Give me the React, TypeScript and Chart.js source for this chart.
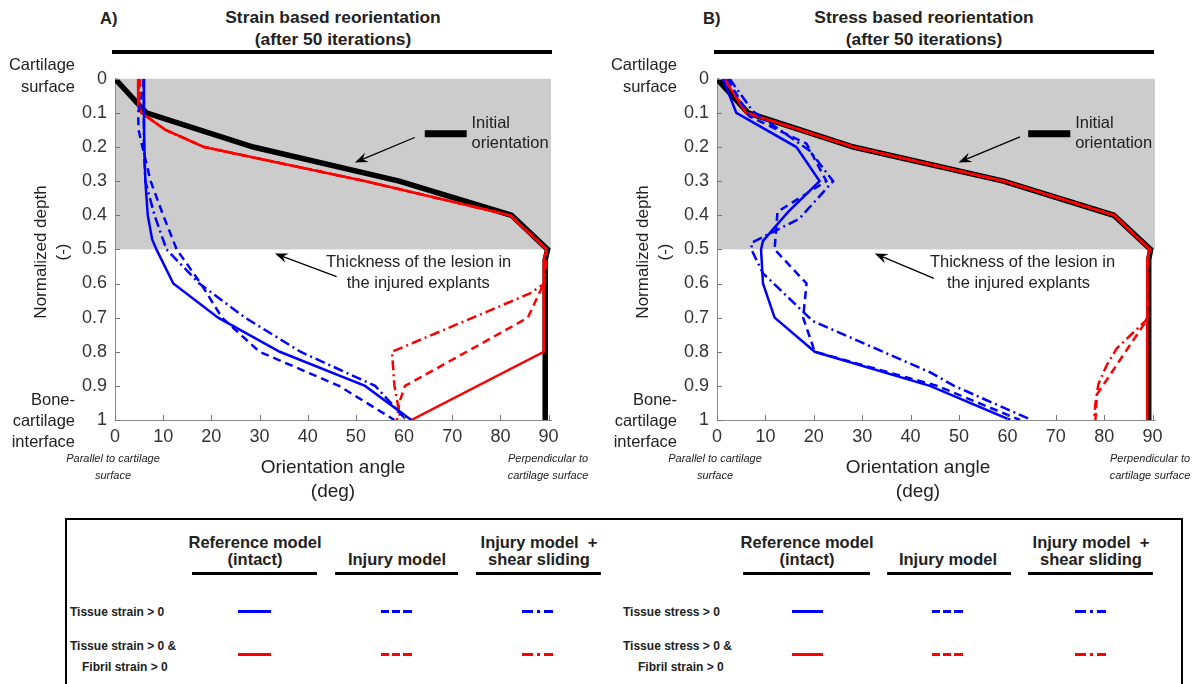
import React, { useEffect, useRef } from "react";
import { Chart, registerables } from "chart.js";
Chart.register(...registerables);

type Pt = [number, number]; // [orientation angle (deg), normalized depth]

const angleTicks = [0, 10, 20, 30, 40, 50, 60, 70, 80, 90];
const depthTicks = [0, 0.1, 0.2, 0.3, 0.4, 0.5, 0.6, 0.7, 0.8, 0.9, 1];
const lesionDepth = 0.5;

// ---------- Panel A: strain based reorientation ----------
const initialA: Pt[] = [[0, 0], [6.5, 0.1], [28.7, 0.2], [59, 0.3], [82.3, 0.4], [89.8, 0.5], [89.3, 0.53], [89.3, 1.0]];
const strainRefBlue: Pt[] = [[6, 0], [6, 0.1], [6.1, 0.2], [6.3, 0.3], [6.8, 0.4], [7.7, 0.47], [8.6, 0.5], [12.1, 0.6], [21.4, 0.7], [34.2, 0.8], [51.9, 0.9], [61.5, 1.0]];
const strainInjBlue: Pt[] = [[6, 0], [5.6, 0.05], [4.8, 0.1], [4.9, 0.15], [5.7, 0.2], [7.4, 0.3], [10, 0.4], [12.8, 0.5], [17.8, 0.6], [22.2, 0.7], [30, 0.8], [46.5, 0.9], [58, 1.0]];
const strainShearBlue: Pt[] = [[6, 0], [6, 0.1], [6, 0.2], [6.3, 0.3], [8.2, 0.4], [10.7, 0.5], [17.5, 0.6], [27, 0.7], [38.5, 0.8], [54, 0.9], [60.5, 1.0]];
const strainRefRed: Pt[] = [[4.8, 0], [4.8, 0.08], [5.5, 0.1], [10.5, 0.15], [18.5, 0.2], [52, 0.3], [82, 0.4], [89.6, 0.5], [89, 0.53], [89, 0.8], [61.5, 1.0]];
const strainInjRed: Pt[] = [[5.2, 0], [5.2, 0.08], [5.5, 0.1], [10.5, 0.15], [18.5, 0.2], [52, 0.3], [82, 0.4], [89.6, 0.5], [89, 0.6], [85.7, 0.7], [73, 0.8], [60.2, 0.9], [59, 0.95], [58.5, 1.0]];
const strainShearRed: Pt[] = [[5, 0], [5, 0.08], [5.5, 0.1], [10.5, 0.15], [18.5, 0.2], [52, 0.3], [82, 0.4], [89.6, 0.5], [89.2, 0.6], [86, 0.63], [57.5, 0.8], [58, 0.9], [59.3, 1.0]];

// ---------- Panel B: stress based reorientation ----------
const initialB: Pt[] = [[0, 0], [6.4, 0.1], [28.2, 0.2], [59.2, 0.3], [82, 0.4], [89.6, 0.5], [89.2, 0.53], [89.2, 1.0]];
const stressRefBlue: Pt[] = [[1.2, 0], [4, 0.1], [16.4, 0.2], [21.2, 0.3], [14.7, 0.39], [9.5, 0.475], [9.1, 0.5], [9.5, 0.6], [11.9, 0.7], [20.2, 0.8], [44, 0.9], [60.6, 1.0]];
const stressInjBlue: Pt[] = [[2.2, 0], [6.7, 0.11], [18.5, 0.19], [22.6, 0.3], [12.5, 0.39], [11.9, 0.5], [18.5, 0.6], [17.8, 0.7], [20.2, 0.8], [45.5, 0.9], [62.6, 1.0]];
const stressShearBlue: Pt[] = [[2.6, 0], [7.4, 0.095], [19.1, 0.21], [24, 0.3], [17, 0.41], [7.2, 0.48], [7.1, 0.5], [9.5, 0.57], [19.8, 0.71], [34.3, 0.8], [44, 0.86], [49, 0.9], [65, 1.0]];
const stressRefRed: Pt[] = [[1.5, 0], [6, 0.1], [28.2, 0.2], [59.2, 0.3], [82, 0.4], [89.4, 0.5], [88.9, 0.53], [88.9, 1.0]];
const stressInjRed: Pt[] = [[1.8, 0], [6.2, 0.1], [28.4, 0.2], [59.4, 0.3], [82.2, 0.4], [89.4, 0.5], [88.9, 0.53], [88.9, 0.7], [88.2, 0.72], [84.4, 0.8], [81.3, 0.866], [78.5, 0.925], [78.2, 1.0]];
const stressShearRed: Pt[] = [[1.6, 0], [6.1, 0.1], [28.3, 0.2], [59.3, 0.3], [82.1, 0.4], [89.4, 0.5], [88.9, 0.53], [88.9, 0.7], [88.5, 0.71], [82.6, 0.79], [80.5, 0.84], [78.8, 0.895], [78.2, 0.95], [77.9, 1.0]];

const FONT = "'Liberation Sans', Arial, Helvetica, sans-serif";
const BLUE = "#0000ff";
const RED = "#ff0000";
const SHADE = "#cccccc";
const DASH = [8, 5];
const DASHDOT = [10, 4, 2, 4];

type Annot = {
  initText: [number, number];
  initBar: [number, number, number];
  initArrow: [number, number, number, number];
  lesionText: [number, number, number];
  lesionArrow: [number, number, number, number];
};

const annotA: Annot = {
  initText: [74, 0.132],
  initBar: [64.3, 73, 0.161],
  initArrow: [62.2, 0.172, 49.8, 0.245],
  lesionText: [43.8, 48.1, 0.538],
  lesionArrow: [46, 0.58, 33.2, 0.512],
};
const annotB: Annot = {
  initText: [74, 0.132],
  initBar: [64.3, 73, 0.161],
  initArrow: [62.6, 0.17, 49.9, 0.245],
  lesionText: [44, 47.5, 0.538],
  lesionArrow: [44.8, 0.585, 32.6, 0.512],
};

function toData(p: Pt[]) {
  return p.map(([a, d]) => ({ x: a, y: d }));
}

function ds(p: Pt[], color: string, dash: number[], width = 2.5) {
  return {
    data: toData(p),
    borderColor: color,
    backgroundColor: color,
    borderWidth: width,
    borderDash: dash,
    pointRadius: 0,
    tension: 0,
    fill: false,
  };
}

function arrow(ctx: CanvasRenderingContext2D, x1: number, y1: number, x2: number, y2: number) {
  const ang = Math.atan2(y2 - y1, x2 - x1);
  const L = 13, W = 5;
  ctx.save();
  ctx.strokeStyle = "#000";
  ctx.fillStyle = "#000";
  ctx.lineWidth = 1.3;
  ctx.beginPath();
  ctx.moveTo(x1, y1);
  ctx.lineTo(x2 - Math.cos(ang) * 8, y2 - Math.sin(ang) * 8);
  ctx.stroke();
  const bx = x2 - Math.cos(ang) * L, by = y2 - Math.sin(ang) * L;
  const nx = -Math.sin(ang), ny = Math.cos(ang);
  const mx = x2 - Math.cos(ang) * (L * 0.65), my = y2 - Math.sin(ang) * (L * 0.65);
  ctx.beginPath();
  ctx.moveTo(x2, y2);
  ctx.lineTo(bx + nx * W, by + ny * W);
  ctx.lineTo(mx, my);
  ctx.lineTo(bx - nx * W, by - ny * W);
  ctx.closePath();
  ctx.fill();
  ctx.restore();
}

function makeDecor(an: Annot) {
  return {
    id: "decor",
    beforeDraw(chart: any) {
      const { ctx, chartArea: ca, scales } = chart;
      const yb = scales.y.getPixelForValue(lesionDepth);
      ctx.save();
      ctx.fillStyle = SHADE;
      ctx.fillRect(ca.left, ca.top, ca.right - ca.left, yb - ca.top);
      ctx.restore();
    },
    afterDraw(chart: any) {
      const { ctx, chartArea: ca, scales } = chart;
      const X = (v: number) => scales.x.getPixelForValue(v);
      const Y = (v: number) => scales.y.getPixelForValue(v);
      ctx.save();
      // inward tick marks
      ctx.strokeStyle = "#777";
      ctx.lineWidth = 1;
      ctx.beginPath();
      angleTicks.forEach((t) => {
        const px = Math.round(X(t)) + 0.5;
        ctx.moveTo(px, ca.bottom);
        ctx.lineTo(px, ca.bottom - 5);
      });
      depthTicks.forEach((t) => {
        const py = Math.round(Y(t)) + 0.5;
        ctx.moveTo(ca.left, py);
        ctx.lineTo(ca.left + 5, py);
      });
      ctx.stroke();
      // initial orientation annotation
      ctx.fillStyle = "#000";
      const [b1, b2, bd] = an.initBar;
      ctx.fillRect(X(b1), Y(bd) - 3.5, X(b2) - X(b1), 7);
      ctx.font = `16.5px ${FONT}`;
      ctx.textAlign = "left";
      ctx.textBaseline = "middle";
      ctx.fillStyle = "#222";
      ctx.fillText("Initial", X(an.initText[0]), Y(an.initText[1]));
      ctx.fillText("orientation", X(an.initText[0]), Y(an.initText[1]) + 20);
      arrow(ctx, X(an.initArrow[0]), Y(an.initArrow[1]), X(an.initArrow[2]), Y(an.initArrow[3]));
      // lesion annotation
      ctx.fillStyle = "#222";
      ctx.fillText("Thickness of the lesion in", X(an.lesionText[0]), Y(an.lesionText[2]));
      ctx.fillText("the injured explants", X(an.lesionText[1]), Y(an.lesionText[2]) + 21);
      arrow(ctx, X(an.lesionArrow[0]), Y(an.lesionArrow[1]), X(an.lesionArrow[2]), Y(an.lesionArrow[3]));
      ctx.restore();
    },
  };
}

type PanelProps = {
  left: number;
  top: number;
  width: number;
  height: number;
  padRight: number;
  series: { p: Pt[]; color: string; dash: number[]; width?: number }[];
  annot: Annot;
};

function Panel({ left, top, width, height, padRight, series, annot }: PanelProps) {
  const ref = useRef<HTMLCanvasElement | null>(null);
  useEffect(() => {
    if (!ref.current) return;
    const tickFont = { family: FONT, size: 18 };
    const chart = new Chart(ref.current, {
      type: "line",
      data: { datasets: series.map((s) => ds(s.p, s.color, s.dash, s.width)) as any },
      options: {
        animation: false,
        responsive: false,
        devicePixelRatio: 1,
        layout: { padding: { left: 0, top: 18, right: padRight, bottom: 0 } },
        plugins: { legend: { display: false }, tooltip: { enabled: false }, title: { display: false } },
        scales: {
          x: {
            type: "linear",
            min: 0,
            max: 90.5,
            afterBuildTicks: (s: any) => {
              s.ticks = angleTicks.map((v) => ({ value: v }));
            },
            afterFit: (s: any) => {
              s.height = 40;
            },
            grid: { display: false, drawTicks: false },
            border: { display: true, color: "#8a8a8a", width: 1 },
            ticks: { font: tickFont, color: "#333", padding: 6, autoSkip: false, maxRotation: 0, callback: (v: any) => String(v) },
          },
          y: {
            type: "linear",
            reverse: true,
            min: 0,
            max: 1,
            afterBuildTicks: (s: any) => {
              s.ticks = depthTicks.map((v) => ({ value: v }));
            },
            afterFit: (s: any) => {
              s.width = 115;
            },
            grid: { display: false, drawTicks: false },
            border: { display: true, color: "#8a8a8a", width: 1 },
            ticks: {
              font: tickFont,
              color: "#333",
              padding: 8,
              autoSkip: false,
              callback: (v: any) => (v === 0 ? "0" : v === 1 ? "1" : Number(v).toFixed(1)),
            },
          },
        },
      },
      plugins: [makeDecor(annot)],
    } as any);
    return () => chart.destroy();
  }, []);
  return <canvas ref={ref} width={width} height={height} style={{ position: "absolute", left, top, width, height }} />;
}

type TxtProps = {
  x: number;
  y: number;
  children: React.ReactNode;
  size?: number;
  bold?: boolean;
  italic?: boolean;
  align?: "left" | "center" | "right";
  rotate?: boolean;
  color?: string;
};
function Txt({ x, y, children, size = 16.5, bold = false, italic = false, align = "left", rotate = false, color = "#222" }: TxtProps) {
  const tx = align === "left" ? "0" : align === "center" ? "-50%" : "-100%";
  return (
    <div
      style={{
        position: "absolute",
        left: x,
        top: y,
        transform: rotate ? "translate(-50%, -50%) rotate(-90deg)" : `translate(${tx}, -50%)`,
        fontFamily: FONT,
        fontSize: size,
        fontWeight: bold ? 700 : 400,
        fontStyle: italic ? "italic" : "normal",
        whiteSpace: "pre",
        lineHeight: 1,
        color,
      }}
    >
      {children}
    </div>
  );
}

function Rule({ x1, x2, y, h = 3 }: { x1: number; x2: number; y: number; h?: number }) {
  return <div style={{ position: "absolute", left: x1, top: y - h / 2, width: x2 - x1, height: h, background: "#000" }} />;
}

function Sample({ x1, x2, y, color, kind }: { x1: number; x2: number; y: number; color: string; kind: "solid" | "dash" | "dashdot" }) {
  const w = x2 - x1;
  let segs: [number, number][] = [];
  if (kind === "solid") segs = [[0, w]];
  else if (kind === "dash") segs = [[0, 8], [11, 19], [22, 31]];
  else segs = [[0, 11], [15, 18], [22, 31]];
  return (
    <>
      {segs.map(([a, b], i) => (
        <div key={i} style={{ position: "absolute", left: x1 + a, top: y - 1.5, width: b - a, height: 3, background: color }} />
      ))}
    </>
  );
}

const seriesA = [
  { p: initialA, color: "#000", dash: [], width: 5.5 },
  { p: strainShearRed, color: RED, dash: DASHDOT },
  { p: strainInjRed, color: RED, dash: DASH },
  { p: strainRefRed, color: RED, dash: [] },
  { p: strainShearBlue, color: BLUE, dash: DASHDOT },
  { p: strainInjBlue, color: BLUE, dash: DASH },
  { p: strainRefBlue, color: BLUE, dash: [] },
].reverse();

const seriesB = [
  { p: initialB, color: "#000", dash: [], width: 5.5 },
  { p: stressShearRed, color: RED, dash: DASHDOT },
  { p: stressInjRed, color: RED, dash: DASH },
  { p: stressRefRed, color: RED, dash: [] },
  { p: stressShearBlue, color: BLUE, dash: DASHDOT },
  { p: stressInjBlue, color: BLUE, dash: DASH },
  { p: stressRefBlue, color: BLUE, dash: [] },
].reverse();

function PanelTexts({ dx, title, letter, letterX, titleX, axisX }: { dx: number; title: string; letter: string; letterX: number; titleX: number; axisX: number }) {
  return (
    <>
      <Txt x={letterX} y={18} size={16.5} bold>{letter}</Txt>
      <Txt x={titleX} y={18} size={17.4} bold align="center">{title}</Txt>
      <Txt x={titleX} y={40} size={17.4} bold align="center">(after 50 iterations)</Txt>
      <Rule x1={112 + dx} x2={552 + dx} y={52} h={4} />
      <Txt x={75 + dx} y={64} align="right">Cartilage</Txt>
      <Txt x={75 + dx} y={86} align="right">surface</Txt>
      <Txt x={75 + dx} y={399} align="right">Bone-</Txt>
      <Txt x={75 + dx} y={420} align="right">cartilage</Txt>
      <Txt x={75 + dx} y={441} align="right">interface</Txt>
      <Txt x={40 + dx} y={252} size={17} rotate>Normalized depth</Txt>
      <Txt x={62 + dx} y={252} size={17} rotate>(-)</Txt>
      <Txt x={axisX} y={466} size={19} align="center">Orientation angle</Txt>
      <Txt x={axisX} y={490} size={19} align="center">(deg)</Txt>
      <Txt x={113 + dx} y={458} size={11} italic align="center">Parallel to cartilage</Txt>
      <Txt x={113 + dx} y={475} size={11} italic align="center">surface</Txt>
      <Txt x={548 + dx} y={458} size={11} italic align="center">Perpendicular to</Txt>
      <Txt x={548 + dx} y={475} size={11} italic align="center">cartilage surface</Txt>
    </>
  );
}

function LegendBlock({ cols, unders, samples, rowLabel, rowX, rowX2 }: { cols: number[]; unders: [number, number][]; samples: [number, number][]; rowLabel: string; rowX: number; rowX2: number }) {
  return (
    <>
      <Txt x={cols[0]} y={542} bold align="center">Reference model</Txt>
      <Txt x={cols[0]} y={559} bold align="center">(intact)</Txt>
      <Txt x={cols[1]} y={559} bold align="center">Injury model</Txt>
      <Txt x={cols[2]} y={542} bold align="center">Injury model  +</Txt>
      <Txt x={cols[2]} y={559} bold align="center">shear sliding</Txt>
      {unders.map(([a, b], i) => (
        <Rule key={i} x1={a} x2={b} y={573} h={3} />
      ))}
      <Txt x={rowX} y={612} size={12} bold>{rowLabel + " > 0"}</Txt>
      <Txt x={rowX} y={646} size={12} bold>{rowLabel + " > 0 &"}</Txt>
      <Txt x={rowX2} y={667} size={12} bold>Fibril strain &gt; 0</Txt>
      <Sample x1={samples[0][0]} x2={samples[0][1]} y={611} color={BLUE} kind="solid" />
      <Sample x1={samples[1][0]} x2={samples[1][1]} y={611} color={BLUE} kind="dash" />
      <Sample x1={samples[2][0]} x2={samples[2][1]} y={611} color={BLUE} kind="dashdot" />
      <Sample x1={samples[0][0]} x2={samples[0][1]} y={654} color={RED} kind="solid" />
      <Sample x1={samples[1][0]} x2={samples[1][1]} y={654} color={RED} kind="dash" />
      <Sample x1={samples[2][0]} x2={samples[2][1]} y={654} color={RED} kind="dashdot" />
    </>
  );
}

export default function App() {
  return (
    <div style={{ position: "fixed", left: 0, top: 0, width: 1192, height: 684, background: "#fff", overflow: "hidden" }}>
      <Panel left={0} top={60} width={580} height={400} padRight={29} series={seriesA} annot={annotA} />
      <Panel left={602} top={60} width={590} height={400} padRight={37} series={seriesB} annot={annotB} />
      <PanelTexts dx={0} title="Strain based reorientation" letter="A)" letterX={100} titleX={333} axisX={333} />
      <PanelTexts dx={602} title="Stress based reorientation" letter="B)" letterX={703} titleX={924} axisX={918} />
      <div style={{ position: "absolute", left: 65, top: 518, width: 1118, height: 200, border: "2px solid #000", boxSizing: "border-box" }} />
      <LegendBlock
        cols={[255, 397, 539]}
        unders={[[192, 317], [335, 458], [476, 601]]}
        samples={[[238, 271], [381, 412], [522, 555]]}
        rowLabel="Tissue strain"
        rowX={70}
        rowX2={82}
      />
      <LegendBlock
        cols={[807, 948, 1091]}
        unders={[[743, 870], [887, 1011], [1028, 1153]]}
        samples={[[792, 823], [932, 963], [1075, 1106]]}
        rowLabel="Tissue stress"
        rowX={623}
        rowX2={638}
      />
    </div>
  );
}
